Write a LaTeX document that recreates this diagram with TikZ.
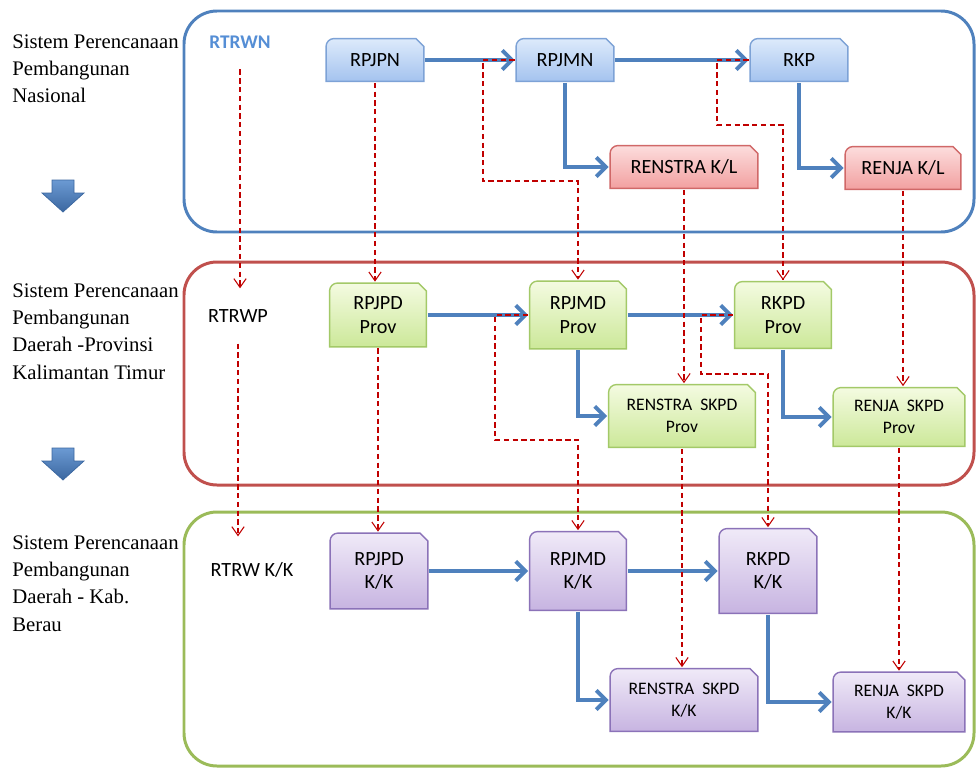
\documentclass[tikz,border=0pt]{standalone}
\usepackage{fontspec}
\setmainfont{Liberation Serif}
\newfontfamily\boxfont{Carlito}
\usetikzlibrary{arrows.meta}

\definecolor{frameblue}{HTML}{4F81BD}
\definecolor{framered}{HTML}{C0504D}
\definecolor{framegreen}{HTML}{9BBB59}
\definecolor{flowblue}{HTML}{4F81BD}
\definecolor{linkred}{HTML}{C00000}
\definecolor{labelblue}{HTML}{558ED5}
\definecolor{arrowlight}{HTML}{6B9AD3}
\definecolor{arrowdark}{HTML}{3B67A0}
\definecolor{nastop}{HTML}{DDEAFB}
\definecolor{nasbot}{HTML}{A4C3EF}
\definecolor{nasline}{HTML}{7DA2D6}
\definecolor{kltop}{HTML}{FCDDDD}
\definecolor{klbot}{HTML}{F2A0A0}
\definecolor{klline}{HTML}{D06868}
\definecolor{provtop}{HTML}{F4FBE1}
\definecolor{provbot}{HTML}{CCE899}
\definecolor{provline}{HTML}{A3C968}
\definecolor{kktop}{HTML}{F0EAF8}
\definecolor{kkbot}{HTML}{C7B4E1}
\definecolor{kkline}{HTML}{8B72B8}

\tikzset{
  docbox/.style n args={3}{rectangle, fill=white, inner sep=2pt, align=center,
    path picture={
      \coordinate (ppsw) at ([shift={(0.6pt,0.6pt)}]path picture bounding box.south west);
      \coordinate (ppne) at ([shift={(-0.6pt,-0.6pt)}]path picture bounding box.north east);
      \shade[top color=#1, bottom color=#2, draw=#3, line width=0.8pt]
        (ppsw) -- ([yshift=-4.5pt]ppsw |- ppne) arc[start angle=180, end angle=90, radius=4.5pt]
        -- ([xshift=-4.5pt]ppne) -- ([yshift=-4.5pt]ppne) -- (ppne |- ppsw) -- cycle;
    }},
  nasbox/.style={docbox={nastop}{nasbot}{nasline}},
  klbox/.style={docbox={kltop}{klbot}{klline}},
  provbox/.style={docbox={provtop}{provbot}{provline}},
  kkbox/.style={docbox={kktop}{kkbot}{kkline}},
  big/.style={font=\boxfont\fontsize{11.5}{13.2}\selectfont},
  small/.style={font=\boxfont\fontsize{10}{12.4}\selectfont}
}

\begin{document}
\begin{tikzpicture}[x=0.02cm, y=-0.02cm,
    frame/.style={rounded corners=0.66cm, line width=1.7pt},
    flow/.style={draw=flowblue, line width=2.2pt, -{Straight Barb[length=5.5pt,width=11pt]}},
    link/.style={draw=linkred, line width=0.6pt, dash pattern=on 3pt off 2pt,
      -{Straight Barb[length=5pt,width=7pt]}},
    side/.style={anchor=north west, inner sep=0pt, align=left,
      font=\fontsize{11.8}{15.6}\selectfont},
    lbl/.style={font=\boxfont\fontsize{11.5}{13}\selectfont}]
  \useasboundingbox (0,0) rectangle (977,768);

  % bingkai tiap tingkat
  \draw[frame, draw=frameblue] (184,11) rectangle (974,232);
  \draw[frame, draw=framered] (184,262) rectangle (974,485);
  \draw[frame, draw=framegreen] (184,512) rectangle (974,766);

  % keterangan di kiri
  \node[side] (nasional) at (12,34) {Sistem Perencanaan\\Pembangunan\\Nasional};
  \node[side] (provinsi) at (12,283) {Sistem Perencanaan\\Pembangunan\\Daerah -Provinsi\\Kalimantan Timur};
  \node[side] (berau) at (12,535) {Sistem Perencanaan\\Pembangunan\\Daerah - Kab.\\Berau};
  \foreach \ay in {180,448}
    \shade[top color=arrowlight, bottom color=arrowdark, draw=arrowdark, line width=0.4pt]
      (52,\ay) -- (74,\ay) -- (74,\ay+13) -- (84,\ay+13) -- (63,\ay+32)
      -- (42,\ay+13) -- (52,\ay+13) -- cycle;

  % nasional
  \node[lbl, font=\boxfont\bfseries\fontsize{11}{13}\selectfont, text=labelblue] (rtrwn) at (240,42) {RTRWN};
  \node[nasbox, big, minimum width=2cm, minimum height=0.9cm] (rpjpn) at (375,60) {RPJPN};
  \node[nasbox, big, minimum width=2cm, minimum height=0.9cm] (rpjmn) at (565,60) {RPJMN};
  \node[nasbox, big, minimum width=2cm, minimum height=0.9cm] (rkp) at (799,60) {RKP};
  \node[klbox, big, minimum width=3cm, minimum height=0.9cm] (renstrakl) at (684,167) {RENSTRA K/L};
  \node[klbox, big, minimum width=2.36cm, minimum height=0.9cm] (renjakl) at (903,168) {RENJA K/L};

  % provinsi
  \node[lbl] (rtrwp) at (238,316) {RTRWP};
  \node[provbox, big, minimum width=1.98cm, minimum height=1.32cm] (rpjpdprov) at (378,315) {RPJPD\\Prov};
  \node[provbox, big, minimum width=1.98cm, minimum height=1.4cm] (rpjmdprov) at (578,315) {RPJMD\\Prov};
  \node[provbox, big, minimum width=1.98cm, minimum height=1.38cm] (rkpdprov) at (783,315) {RKPD\\Prov};
  \node[provbox, small, minimum width=2.98cm, minimum height=1.3cm] (renstraprov) at (682,416) {RENSTRA\ \ SKPD\\Prov};
  \node[provbox, small, minimum width=2.68cm, minimum height=1.22cm] (renjaprov) at (899,417) {RENJA\ \ SKPD\\Prov};

  % kabupaten / kota
  \node[lbl] (rtrwkk) at (252,570) {RTRW K/K};
  \node[kkbox, big, minimum width=2cm, minimum height=1.56cm] (rpjpdkk) at (379,571) {RPJPD\\K/K};
  \node[kkbox, big, minimum width=1.98cm, minimum height=1.62cm] (rpjmdkk) at (578,571) {RPJMD\\K/K};
  \node[kkbox, big, minimum width=2cm, minimum height=1.74cm] (rkpdkk) at (768,571) {RKPD\\K/K};
  \node[kkbox, small, minimum width=3cm, minimum height=1.3cm] (renstrakk) at (684,700) {RENSTRA\ \ SKPD\\K/K};
  \node[kkbox, small, minimum width=2.68cm, minimum height=1.24cm] (renjakk) at (899,702) {RENJA\ \ SKPD\\K/K};

  % alur utama
  \draw[flow] (rpjpn) -- (rpjmn);
  \draw[flow] (rpjmn) -- (rkp);
  \draw[flow] (rpjmn.south) |- (renstrakl.west);
  \draw[flow] (rkp.south) |- (renjakl.west);
  \draw[flow] (rpjpdprov) -- (rpjmdprov);
  \draw[flow] (rpjmdprov) -- (rkpdprov);
  \draw[flow] (rpjmdprov.south) |- (renstraprov.west);
  \draw[flow] (rkpdprov.south) |- (renjaprov.west);
  \draw[flow] (rpjpdkk) -- (rpjmdkk);
  \draw[flow] (rpjmdkk) -- (rkpdkk);
  \draw[flow] (rpjmdkk.south) |- (renstrakk.west);
  \draw[flow] (rkpdkk.south) |- (renjakk.west);

  % acuan antar tingkat
  \draw[link] ([yshift=-0.3cm]rtrwn.south) -- ([yshift=0.3cm]rtrwn.south |- rtrwp.north);
  \draw[link] ([yshift=-0.3cm]rtrwp.south) -- ([yshift=0.4cm]rtrwp.south |- rtrwkk.north);
  \draw[link] (rpjpn.south) -- (rpjpn.south |- rpjpdprov.north);
  \draw[link] (rpjpdprov.south) -- (rpjpdprov.south |- rpjpdkk.north);
  \draw[link] (rpjmn.west) -| (483,181) -| (rpjmdprov.north);
  \draw[link] (rkp.west) -| (717,125) -| (rkpdprov.north);
  \draw[link] (renstrakl.south) -- (renstrakl.south |- renstraprov.north);
  \draw[link] (renjakl.south) -- (renjakl.south |- renjaprov.north);
  \draw[link] (rpjmdprov.west) -| (495,440) -| (rpjmdkk.north);
  \draw[link] (rkpdprov.west) -| (701,374) -| (rkpdkk.north);
  \draw[link] (renstraprov.south) -- (renstraprov.south |- renstrakk.north);
  \draw[link] (renjaprov.south) -- (renjaprov.south |- renjakk.north);
\end{tikzpicture}
\end{document}
